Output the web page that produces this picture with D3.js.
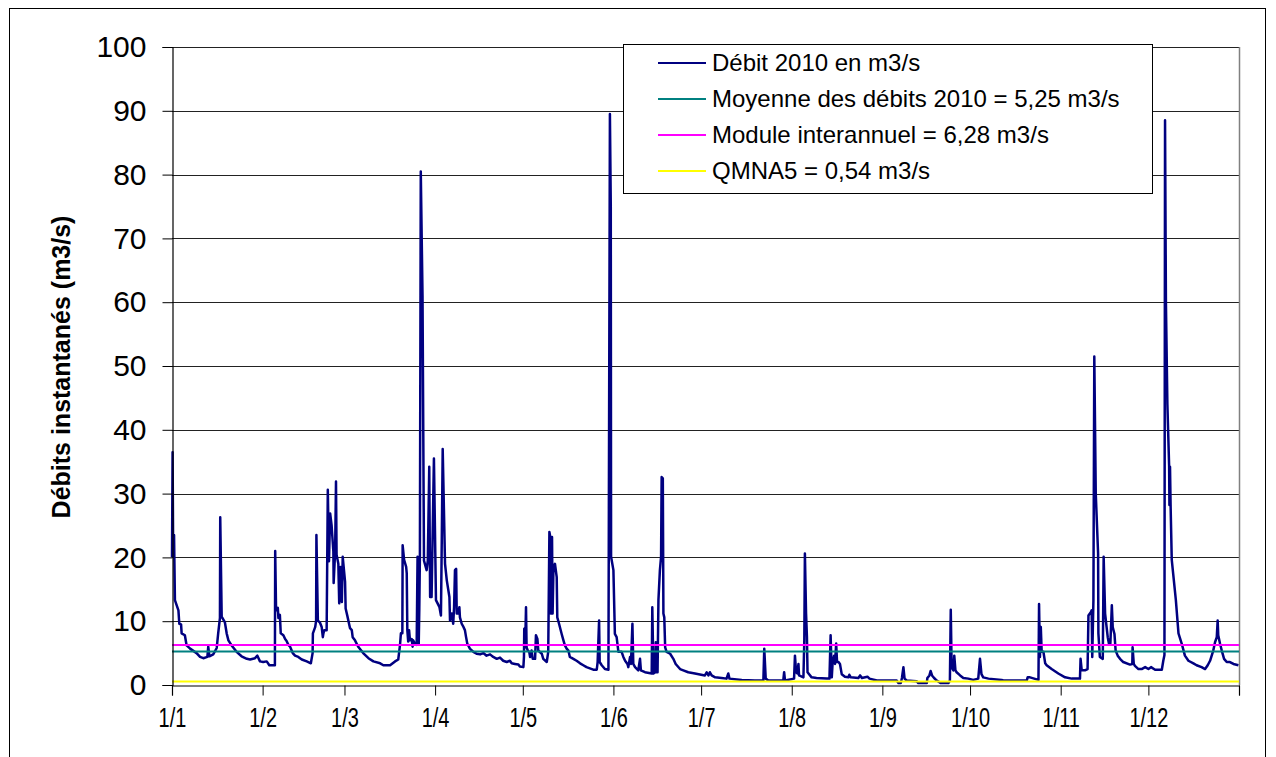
<!DOCTYPE html>
<html>
<head>
<meta charset="utf-8">
<script src="https://cdn.jsdelivr.net/npm/d3@7"></script>
<style>
  html, body { margin: 0; padding: 0; background: #fff; }
  svg { display: block; font-family: "Liberation Sans", Arial, sans-serif; }
</style>
</head>
<body>
<svg id="chart" width="1276" height="757"></svg>
<script>
// ---------- data (day of year 2010, m3/s) ----------
const flowPoints = [
  [0.0,20],[0.2,36.5],[0.4,20.3],[0.7,23.5],[1.0,13.3],[2.2,11.7],[2.5,9.6],[3.1,9.5],[3.3,8.1],[4.4,7.8],[5.0,6.2],[6.2,5.7],[8.4,5.0],[9.6,4.4],[10.7,4.2],[12.1,4.4],[12.4,6.0],[12.8,4.5],[14.1,4.8],[15.3,5.8],[15.8,8.1],[16.4,10.5],[16.5,26.3],[17.0,10.7],[18.1,9.8],[18.7,8.1],[19.3,7.0],[20.4,6.2],[22.1,5.2],[23.8,4.5],[25.6,4.1],[26.7,4.0],[28.4,4.2],[29.2,4.6],[30.1,3.7],[31.2,3.6],[32.4,3.7],[33.3,3.1],[35.2,3.1],[35.3,21.0],[35.6,11.7],[36.2,12.1],[36.4,10.5],[36.9,11.0],[37.2,8.1],[38.1,7.8],[38.7,7.2],[39.2,6.9],[39.8,6.3],[40.4,6.0],[41.3,5.0],[42.1,4.6],[43.2,4.4],[44.4,4.0],[46.1,3.7],[47.5,3.4],[48.1,5.0],[48.2,8.1],[49.0,9.1],[49.3,10.1],[49.4,23.5],[49.9,10.1],[50.6,9.8],[51.2,9.1],[51.6,7.5],[51.8,8.1],[52.1,8.6],[52.9,8.6],[53.3,30.6],[53.7,19.4],[54.1,26.9],[54.6,25.0],[55.2,20.9],[55.3,16.0],[55.8,20.9],[56.1,31.9],[56.3,20.4],[56.9,19.0],[57.2,12.8],[57.7,18.5],[58.1,13.0],[58.4,20.1],[59.2,16.2],[59.4,12.0],[60.0,10.8],[60.9,8.9],[61.5,8.6],[61.8,7.5],[62.6,7.0],[63.7,6.0],[65.4,5.0],[67.2,4.2],[68.9,3.7],[71.2,3.4],[72.3,3.1],[74.6,3.1],[76.3,3.7],[77.4,4.0],[78.0,6.3],[78.3,8.1],[78.8,8.1],[78.9,21.9],[79.4,19.6],[80.1,18.5],[80.3,17.5],[80.5,8.6],[80.8,6.8],[81.1,8.6],[81.4,7.0],[82.0,7.2],[82.3,6.0],[82.5,7.0],[83.1,6.5],[83.7,6.3],[84.0,20.1],[84.4,6.3],[84.6,12.0],[84.8,20.1],[85.1,80.5],
  [85.7,61],[86.2,19.5],[87.1,18.0],[87.5,19.5],[88.0,34.2],[88.3,13.8],[88.8,13.8],[89.6,35.5],[90.3,13.3],[91.5,12.2],[92.0,10.9],[92.2,19.0],[92.6,37.0],[93.4,19.0],[94.0,16.4],[94.9,13.8],[95.1,10.1],[95.7,11.2],[96.2,9.6],[96.5,12.2],[96.8,18.0],[97.2,18.2],[97.4,11.2],[98.0,11.2],[98.3,12.2],[98.5,10.6],[99.1,9.6],[99.7,9.1],[100.2,8.6],[100.6,7.5],[101.0,6.5],[101.9,5.7],[103.1,5.2],[104.2,4.9],[105.4,4.8],[106.5,5.0],[107.6,4.6],[108.8,4.8],[109.9,4.4],[111.1,4.1],[112.2,4.3],[113.3,3.8],[114.5,3.6],[115.6,3.8],[116.2,3.4],[117.3,3.3],[118.5,3.2],[119.0,2.9],[120.2,2.8],[120.4,4.4],[120.5,8.8],[120.8,5.9],[121.1,12.2],[121.3,5.9],[121.7,5.4],[122.2,5.2],[122.5,4.4],[123.0,5.4],[123.4,4.1],[124.2,4.1],[124.5,7.8],[125.0,7.2],[125.3,5.4],[126.5,4.9],[127.0,4.1],[128.2,3.6],[128.7,5.2],[129.1,24.0],[129.4,23.2],[129.6,11.2],[130.0,23.2],[130.2,11.2],[130.5,18.5],[131.0,19.0],[131.6,16.9],[131.8,10.6],[132.4,9.6],[133.3,8.0],[133.9,7.0],[134.4,6.2],[135.0,5.7],[135.6,5.4],[136.1,4.4],[137.3,4.1],[138.4,3.8],[139.6,3.4],[140.7,3.1],[141.8,2.8],[144.1,2.4],
  [145.3,2.4],[145.6,3.6],[146.1,10.1],[146.3,3.6],[147.0,3.1],[148.1,2.5],[149.3,2.4],[149.8,89.5],[150.1,75],[150.2,20.1],[151.0,18.0],[151.5,8.0],[152.1,7.5],[152.7,5.2],[153.8,5.2],[154.4,4.4],[155.0,3.8],[155.8,3.3],[156.1,2.8],[156.7,4.4],[157.0,3.3],[157.5,9.6],[157.8,3.3],[158.4,2.8],[159.5,2.3],[160.1,4.1],[160.4,2.3],[161.8,2.0],[164.1,1.8],[164.3,12.2],[164.7,1.8],[165.3,2.0],[165.5,6.7],[165.7,2.0],[165.9,6.7],[166.1,2.0],[166.4,13.3],[166.9,18.0],[167.3,20.1],[167.5,32.6],[167.9,32.4],[168.1,11.2],[168.4,10.6],[168.7,5.9],[169.2,5.2],[170.4,4.9],[171.5,4.1],[172.3,3.3],[173.8,2.5],[174.9,2.3],[176.6,2.0],[178.9,1.8],[182.3,1.5],[182.9,2.0],[183.5,1.5],[184.0,2.0],[184.6,1.5],[185.8,1.2],[188.0,1.1],[189.7,1.0],[190.3,1.8],[190.7,1.0],[194.9,0.8],[199.4,0.7],[202.3,0.7],[202.6,5.7],[203.1,1.0],[204.0,0.7],[209.1,0.7],[209.4,2.0],[209.7,0.7],[212.8,1.0],[213.1,4.6],[213.5,2.0],[213.9,1.8],[214.3,3.3],[214.5,1.5],[216.0,1.2],[216.3,7.0],[216.5,20.6],[216.9,11.2],[217.2,7.5],[217.4,2.0],[218.8,1.2],
  [220.5,1.1],[224.0,1.0],[224.9,1.0],[225.3,7.8],[225.7,1.2],[226.0,3.6],[226.5,4.6],[226.8,3.3],[227.2,6.5],[227.5,3.6],[228.0,3.6],[228.5,3.3],[229.1,1.7],[230.2,1.3],[231.4,1.2],[231.7,1.6],[232.2,1.2],[234.8,1.1],[235.4,1.5],[236.0,1.1],[237.9,1.3],[238.6,1.0],[241.1,0.7],[247.9,0.7],[248.5,0.3],[249.3,0.3],[249.7,1.1],[250.2,2.8],[250.6,1.0],[251.3,0.7],[254.7,0.6],[255.3,0.3],[258.2,0.3],[258.4,1.1],[259.1,1.5],[259.5,2.2],[260.0,1.5],[260.7,1.1],[261.6,0.7],[263.0,0.3],[265.6,0.3],[266.1,0.7],[266.4,11.8],[266.7,2.8],[267.3,2.3],[267.6,4.6],[268.0,2.3],[268.4,2.0],[269.6,1.5],[270.7,1.1],[272.4,1.0],[274.1,0.8],[275.8,1.0],[276.4,4.1],[276.9,1.7],[277.5,1.2],[279.3,1.0],[283.8,0.8],[284.4,0.7],[292.4,0.7],[292.7,1.2],[293.5,1.2],
  [296.4,0.8],[296.6,12.7],[296.9,4.4],[297.2,9.1],[297.5,5.2],[298.1,5.2],[298.7,3.4],[299.2,3.1],[300.9,2.5],[303.2,1.8],[305.5,1.2],[307.8,1.0],[310.6,1.0],[310.8,4.1],[311.2,2.3],[312.3,2.3],[313.2,2.5],[313.5,10.9],[314.3,11.4],[314.6,11.7],[314.8,4.4],[315.2,13.3],[315.5,51.5],[316.0,30.0],[316.8,20.6],[316.9,8.1],[317.4,4.4],[318.4,4.1],[318.7,20.1],[319.2,11.2],[319.7,9.1],[320.1,7.5],[320.5,6.5],[321.0,6.5],[321.5,12.5],[321.8,9.1],[322.4,8.0],[322.8,5.4],[323.5,4.6],[324.3,4.1],[325.4,3.6],[327.7,3.2],[328.5,3.3],[328.6,5.9],[329.0,3.3],[329.4,3.0],[330.6,2.5],[331.7,2.5],[332.9,2.8],[334.0,2.5],[334.9,2.8],[336.3,2.4],[338.6,2.4],[339.1,3.8],[339.5,4.7],[339.7,88.5],[340.0,60.0],[340.5,44.0],[341.1,34.3],[341.2,28.2],[341.4,34.2],[341.6,28.2],[342.0,19.6],[343.4,13.3],[344.3,8.1],[345.4,6.5],[346.5,4.6],[347.7,3.8],[349.4,3.4],[350.5,3.1],[352.2,2.8],[353.4,2.5],[354.3,3.1],[355.1,3.8],[356.2,5.4],[356.8,6.7],[357.4,7.5],[357.7,10.1],[357.9,7.8],[358.5,6.5],[359.1,5.4],[359.9,4.1],[360.8,3.6],[361.9,3.6],[363.1,3.3],[364.8,3.1]
];
const refNames  = ["Moyenne des débits 2010 = 5,25 m3/s", "Module interannuel = 6,28 m3/s", "QMNA5 = 0,54 m3/s"];
const refValues = [5.25, 6.28, 0.54];
const seriesName = "Débit 2010 en m3/s";
const monthLabels = ["1/1","1/2","1/3","1/4","1/5","1/6","1/7","1/8","1/9","1/10","1/11","1/12",""];
const yTickValues = [0,10,20,30,40,50,60,70,80,90,100];
const yTitle = "Débits instantanés (m3/s)";

// ---------- styles ----------
const seriesColor = "#000080";
const refColors = ["#008080", "#ff00ff", "#ffff00"];

const svg = d3.select("#chart");
const plot = { left: 172, right: 1239, top: 47, bottom: 685 };

svg.append("rect").attr("width", 1276).attr("height", 757).attr("fill", "#fff");
svg.append("rect").attr("x", 9.5).attr("y", 8.5).attr("width", 1256).attr("height", 780)
  .attr("fill", "none").attr("stroke", "#000").attr("stroke-width", 1);

const t0 = new Date(Date.UTC(2010, 0, 1));
const t1 = new Date(Date.UTC(2011, 0, 1));
const dayToDate = d => new Date(t0.getTime() + d * 864e5);
const x = d3.scaleUtc().domain([t0, t1]).range([plot.left, plot.right]);
const y = d3.scaleLinear().domain([0, 100]).range([plot.bottom, plot.top]);

// gridlines
svg.append("g").selectAll("line").data(yTickValues.filter(v => v > 0)).join("line")
  .attr("x1", plot.left).attr("x2", plot.right)
  .attr("y1", d => Math.round(y(d)) + 0.5).attr("y2", d => Math.round(y(d)) + 0.5)
  .attr("stroke", "#222").attr("stroke-width", 1);
// plot area right border
svg.append("line").attr("x1", plot.right + 0.5).attr("x2", plot.right + 0.5)
  .attr("y1", plot.top).attr("y2", plot.bottom).attr("stroke", "#808080").attr("stroke-width", 1.5);

// series
const line = d3.line().x(d => x(dayToDate(d[0]))).y(d => y(d[1]));
svg.append("path").datum(flowPoints).attr("d", line)
  .attr("fill", "none").attr("stroke", seriesColor).attr("stroke-width", 2.5)
  .attr("stroke-linejoin", "round");

// reference lines
svg.append("g").selectAll("line").data(refValues).join("line")
  .attr("x1", plot.left).attr("x2", plot.right)
  .attr("y1", d => y(d)).attr("y2", d => y(d))
  .attr("stroke", (d, i) => refColors[i]).attr("stroke-width", 2);

// axes
const monthTicks = d3.utcMonth.range(t0, d3.utcDay.offset(t1, 1));
const xAxis = d3.axisBottom(x).tickValues(monthTicks).tickSize(10).tickPadding(12)
  .tickFormat((d, i) => monthLabels[i]);
const gx = svg.append("g").attr("transform", `translate(0,${plot.bottom + 0.5})`).call(xAxis);
gx.select(".domain").attr("stroke", "#000").attr("stroke-width", 1.2);
gx.selectAll(".tick line").attr("stroke", "#000");
gx.selectAll(".tick text").attr("font-size", 27).attr("fill", "#000")
  .attr("font-family", "'Liberation Sans', Arial, sans-serif")
  .attr("transform", "scale(0.74,1)");

const yAxis = d3.axisLeft(y).tickValues(yTickValues).tickSize(10).tickPadding(16).tickFormat(d3.format("d"));
const gy = svg.append("g").attr("transform", `translate(${plot.left + 0.5},0)`).call(yAxis);
gy.select(".domain").attr("stroke", "#000").attr("stroke-width", 1.2);
gy.selectAll(".tick line").attr("stroke", "#000");
gy.selectAll(".tick text").attr("font-size", 30).attr("fill", "#000")
  .attr("font-family", "'Liberation Sans', Arial, sans-serif");

// y title
svg.append("text").attr("transform", `translate(70,367) rotate(-90)`)
  .attr("text-anchor", "middle").attr("font-size", 25).attr("font-weight", "bold")
  .text(yTitle);

// legend
const legend = svg.append("g");
legend.append("rect").attr("x", 623.5).attr("y", 44.5).attr("width", 529).attr("height", 149)
  .attr("fill", "#fff").attr("stroke", "#000").attr("stroke-width", 1);
const legItems = [{ name: seriesName, color: seriesColor }]
  .concat(refNames.map((n, i) => ({ name: n, color: refColors[i] })));
const legRowY = d3.scalePoint().domain(d3.range(legItems.length)).range([63, 171]);
const rows = legend.selectAll("g.row").data(legItems).join("g").attr("class", "row")
  .attr("transform", (d, i) => `translate(0,${legRowY(i)})`);
rows.append("line").attr("x1", 658).attr("x2", 706).attr("stroke", d => d.color).attr("stroke-width", 2);
rows.append("text").attr("x", 712).attr("dy", "0.35em").attr("font-size", 24).text(d => d.name);
</script>
</body>
</html>
